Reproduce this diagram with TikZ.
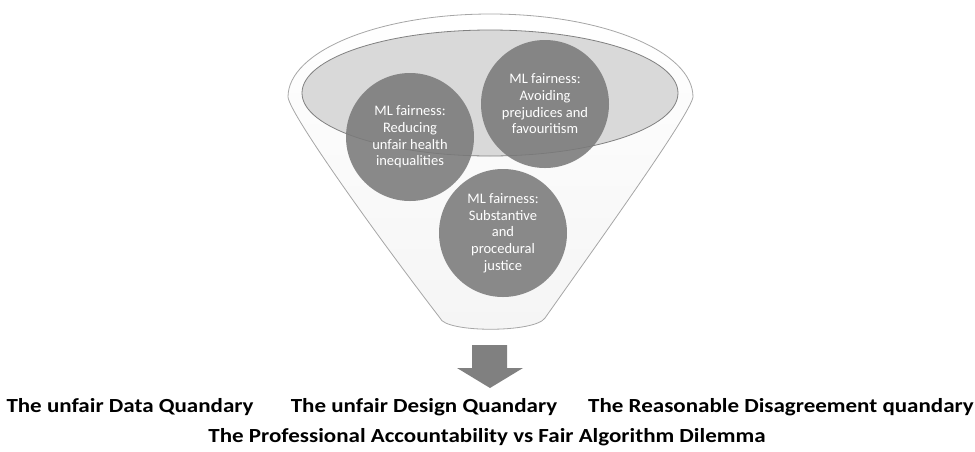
\documentclass[tikz,border=0pt]{standalone}
\usepackage{fontspec}
\setmainfont{Carlito}
\newfontfamily\widefont[FakeStretch=1.15]{Carlito}
\usepackage{tikz}
\usetikzlibrary{shapes}

\definecolor{rimgray}{HTML}{A6A6A6}
\definecolor{bowlgray}{HTML}{D9D9D9}
\definecolor{ballgray}{HTML}{7A7A7A}

\begin{document}
\begin{tikzpicture} [x=1pt,y=-1pt,
  fairball/.style= {circle,minimum size=128pt,inner sep=0,fill=ballgray,fill opacity=0.88,text opacity=1,text=white,align=center,font=\fontsize{14.5}{16.7}\selectfont},
  quandary/.style= {font=\widefont\fontsize{20}{22}\selectfont\bfseries,inner sep=0}]
\useasboundingbox (0,0) rectangle (975,451);
% funnel body
\draw[rimgray,line width=0.8pt,top color=white,bottom color=black!4]
  (288,97) arc[start angle=180,end angle=360,x radius=202.5,y radius=83]
  .. controls (690,115) and (600,240) .. (545,318)
  .. controls (535,333) and (445,333) .. (440,318)
  .. controls (380,240) and (290,115) .. cycle;
\draw[black!50,line width=0.8pt,fill=bowlgray] (490,93) ellipse[x radius=188,y radius=63];
% the three fairness balls
\node[fairball] (reduce) at (410,137) {ML fairness:\\Reducing\\unfair health\\inequalities};
\node[fairball] (avoid) at (545,104) {ML fairness:\\Avoiding\\prejudices and\\favouritism};
\node[fairball] (justice) at (503,233) {ML fairness:\\Substantive\\and\\procedural\\justice};
% arrow down
\fill[black!50] (472,345) -- (507,345) -- (507,368) -- (523,368) -- (490,388) -- (457,368) -- (472,368) -- cycle;
% quandaries
\node[quandary] (data) at (130,407) {The unfair Data Quandary};
\node[quandary] (design) at (424,407) {The unfair Design Quandary};
\node[quandary] (reason) at (781,407) {The Reasonable Disagreement quandary};
\node[quandary] (dilemma) at (487,437) {The Professional Accountability vs Fair Algorithm Dilemma};
\end{tikzpicture}
\end{document}
